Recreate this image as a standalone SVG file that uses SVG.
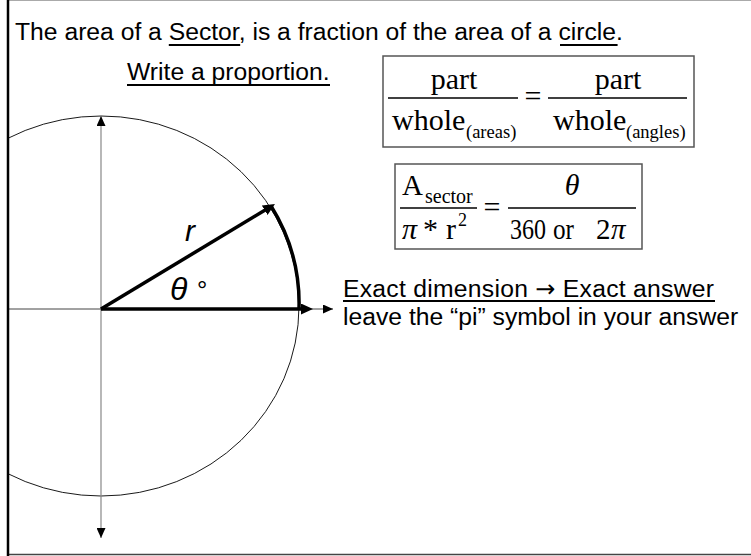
<svg xmlns="http://www.w3.org/2000/svg" width="751" height="556" viewBox="0 0 751 556">
<style>
.sans{font-family:"Liberation Sans",Arial,sans-serif;font-size:24.7px;fill:#000}
.serif{font-family:"Liberation Serif","Times New Roman",serif;fill:#000}
.ul{stroke:#000;stroke-width:1.8}
.bar{stroke:#000;stroke-width:1.3}
.box{fill:#fff;stroke:#555;stroke-width:1.5}
.axis{fill:none;stroke:#888;stroke-width:1.2}
.thick{fill:none;stroke:#000;stroke-width:3.5}
.lbl{font-family:"Liberation Sans",Arial,sans-serif;font-style:italic;fill:#000}
</style>
<defs>
<marker id="ax" markerUnits="userSpaceOnUse" markerWidth="10" markerHeight="9" refX="10" refY="4.5" orient="auto-start-reverse" viewBox="0 0 10 9">
<path d="M0,0 L10,4.5 L0,9 z" fill="#000"/>
</marker>
<marker id="big" markerUnits="userSpaceOnUse" markerWidth="12" markerHeight="11" refX="2" refY="5.5" orient="auto" viewBox="0 0 12 11">
<path d="M0,0 L12,5.5 L0,11 z" fill="#000"/>
</marker>
<clipPath id="clip"><rect x="8" y="0" width="743" height="556"/></clipPath>
</defs>
<rect width="751" height="556" fill="#fff"/>

<g id="frame">
<line x1="8" y1="0.5" x2="751" y2="0.5" stroke="#aaa" stroke-width="1"/>
<line x1="8" y1="554.5" x2="751" y2="554.5" stroke="#444" stroke-width="1.5"/>
</g>

<g id="title">
<text class="sans" x="15" y="40">The area of a Sector, is a fraction of the area of a circle.</text>
<line class="ul" x1="168.8" y1="45" x2="240.2" y2="45"/>
<line class="ul" x1="560" y1="45" x2="617.6" y2="45"/>
</g>

<g id="write-proportion">
<text class="sans" x="127" y="80">Write a proportion.</text>
<line class="ul" x1="127" y1="85" x2="330" y2="85"/>
</g>

<g id="formula-proportion">
<rect class="box" x="383" y="56" width="311" height="91"/>
<text class="serif" x="454" y="89" font-size="30" text-anchor="middle">part</text>
<line class="bar" x1="388" y1="98" x2="518" y2="98"/>
<text class="serif" x="392" y="130" font-size="30">whole</text>
<text class="serif" x="466" y="138" font-size="18.5">(areas)</text>
<text class="serif" x="533" y="106" font-size="30" text-anchor="middle">=</text>
<text class="serif" x="618" y="89" font-size="30" text-anchor="middle">part</text>
<line class="bar" x1="548" y1="98" x2="687" y2="98"/>
<text class="serif" x="553" y="130" font-size="30">whole</text>
<text class="serif" x="626" y="138" font-size="18.5">(angles)</text>
</g>

<g id="formula-sector">
<rect class="box" x="395" y="164" width="247" height="85"/>
<text class="serif" x="402" y="195" font-size="29">A</text>
<text class="serif" x="425" y="203" font-size="20">sector</text>
<line class="bar" x1="400" y1="208" x2="477" y2="208"/>
<text class="serif" y="239" font-size="30"><tspan x="402" font-style="italic">π</tspan><tspan x="423">*</tspan><tspan x="446">r</tspan><tspan x="458" y="226" font-size="18">2</tspan></text>
<text class="serif" x="492" y="217" font-size="30" text-anchor="middle">=</text>
<text class="serif" x="572" y="195" font-size="30" font-style="italic" text-anchor="middle">θ</text>
<line class="bar" x1="508" y1="208" x2="636" y2="208"/>
<text class="serif" x="510" y="239" font-size="29" textLength="36" lengthAdjust="spacingAndGlyphs">360</text>
<text class="serif" x="553" y="239" font-size="29" textLength="21" lengthAdjust="spacingAndGlyphs">or</text>
<text class="serif" x="596" y="239" font-size="29">2</text>
<text class="serif" x="611" y="239" font-size="29" font-style="italic">π</text>
</g>

<g id="exact-note">
<text class="sans" x="343" y="297" textLength="371" lengthAdjust="spacing">Exact dimension <tspan font-family="DejaVu Sans,sans-serif" font-size="24">→</tspan> Exact answer</text>
<line class="ul" x1="343" y1="301" x2="715" y2="301"/>
<text class="sans" x="343" y="325">leave the “pi” symbol in your answer</text>
</g>

<g id="circle-figure">
<ellipse cx="101" cy="306" rx="198" ry="190" fill="none" stroke="#000" stroke-width="0.9" clip-path="url(#clip)"/>
<path class="thick" d="M271,206 A198,190 0 0 1 299,309" stroke-width="4"/>
<text class="lbl" x="185" y="241" font-size="30">r</text>
<text class="lbl" x="170" y="300" font-size="32">θ</text>
<text class="lbl" x="196" y="299" font-size="26">°</text>
</g>

<g id="connectors">
<line class="axis" x1="101" y1="116" x2="101" y2="538" marker-start="url(#ax)" marker-end="url(#ax)"/>
<line x1="8" y1="309" x2="333" y2="309" stroke="#444" stroke-width="1" marker-end="url(#ax)"/>
<line class="thick" x1="101" y1="309" x2="303" y2="309" marker-end="url(#big)"/>
<line class="thick" x1="101" y1="309" x2="266.4" y2="209.2" marker-end="url(#big)"/>
</g>

<g id="frame-left">
<line x1="8" y1="0" x2="8" y2="556" stroke="#000" stroke-width="2.5"/>
</g>
</svg>
